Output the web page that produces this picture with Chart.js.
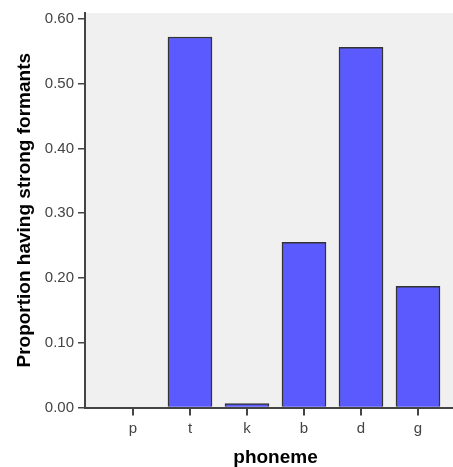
<!DOCTYPE html>
<html>
<head>
<meta charset="utf-8">
<script src="https://cdn.jsdelivr.net/npm/chart.js@4/dist/chart.umd.min.js"></script>
<style>
  html, body { margin: 0; padding: 0; background: #fff; }
  #wrap { width: 453px; height: 467px; }
</style>
</head>
<body>
<div id="wrap"><canvas id="c"></canvas></div>
<script>
const phonemes = ["p", "t", "k", "b", "d", "g"];
const proportions = [0.0, 0.572, 0.006, 0.255, 0.556, 0.187];
const yTicks = [0, 0.1, 0.2, 0.3, 0.4, 0.5, 0.6];

const FONT = "'Liberation Sans', Arial, sans-serif";

const plotBg = {
  id: "plotBg",
  beforeDraw(chart) {
    const a = chart.chartArea, ctx = chart.ctx;
    ctx.save();
    ctx.fillStyle = "#f0f0f0";
    ctx.fillRect(a.left, a.top, a.right - a.left, a.bottom - a.top);
    ctx.restore();
  }
};

// axis title centred under the categories, like SPSS does it
const axisExtras = {
  id: "axisExtras",
  afterDraw(chart) {
    const x = chart.scales.x, ctx = chart.ctx;
    const bottom = chart.chartArea.bottom;
    const px = x.ticks.map(t => x.getPixelForValue(t.value));
    ctx.save();
    ctx.fillStyle = "#444";
    px.forEach(p => ctx.fillRect(Math.round(p) - 1, bottom + 1, 2, 7));
    ctx.font = "bold 19px " + FONT;
    ctx.fillStyle = "#000";
    ctx.textAlign = "center";
    ctx.textBaseline = "middle";
    ctx.fillText("phoneme", (px[0] + px[px.length - 1]) / 2, bottom + 50);
    ctx.restore();
  }
};

new Chart(document.getElementById("c"), {
  type: "bar",
  data: {
    datasets: [{
      data: proportions.map((v, i) => ({ x: i + 1, y: v })),
      backgroundColor: "#5a5aff",
      borderColor: "#333",
      borderWidth: 1.5,
      barThickness: 44
    }]
  },
  options: {
    responsive: true,
    maintainAspectRatio: false,
    animation: false,
    layout: { padding: { top: 12, right: 0, left: 0, bottom: 0 } },
    plugins: { legend: { display: false }, tooltip: { enabled: false } },
    scales: {
      x: {
        type: "linear",
        offset: false,
        min: 0.158,
        max: 6.614,
        afterBuildTicks: s => { s.ticks = phonemes.map((p, i) => ({ value: i + 1 })); },
        afterFit: s => { s.height = 59.5; },
        ticks: {
          callback: v => phonemes[v - 1],
          color: "#444",
          font: { family: FONT, size: 15 },
          padding: 5,
          maxRotation: 0
        },
        grid: { offset: false, drawOnChartArea: false, tickLength: 7, color: "#444", lineWidth: 1.5 },
        border: { display: true, color: "#444", width: 2 }
      },
      y: {
        min: 0,
        max: 0.609,
        afterBuildTicks: s => { s.ticks = yTicks.map(v => ({ value: v })); },
        afterFit: s => { s.width = 85; },
        ticks: {
          callback: v => v.toFixed(2),
          color: "#444",
          font: { family: FONT, size: 15 },
          padding: 4
        },
        grid: { drawOnChartArea: false, tickLength: 7, color: "#444", lineWidth: 1.5 },
        border: { display: true, color: "#444", width: 2 },
        title: {
          display: true,
          text: "Proportion having strong formants",
          color: "#000",
          font: { family: FONT, size: 19, weight: "bold" },
          padding: { top: 13, bottom: 0 }
        }
      }
    }
  },
  plugins: [plotBg, axisExtras]
});
</script>
</body>
</html>
